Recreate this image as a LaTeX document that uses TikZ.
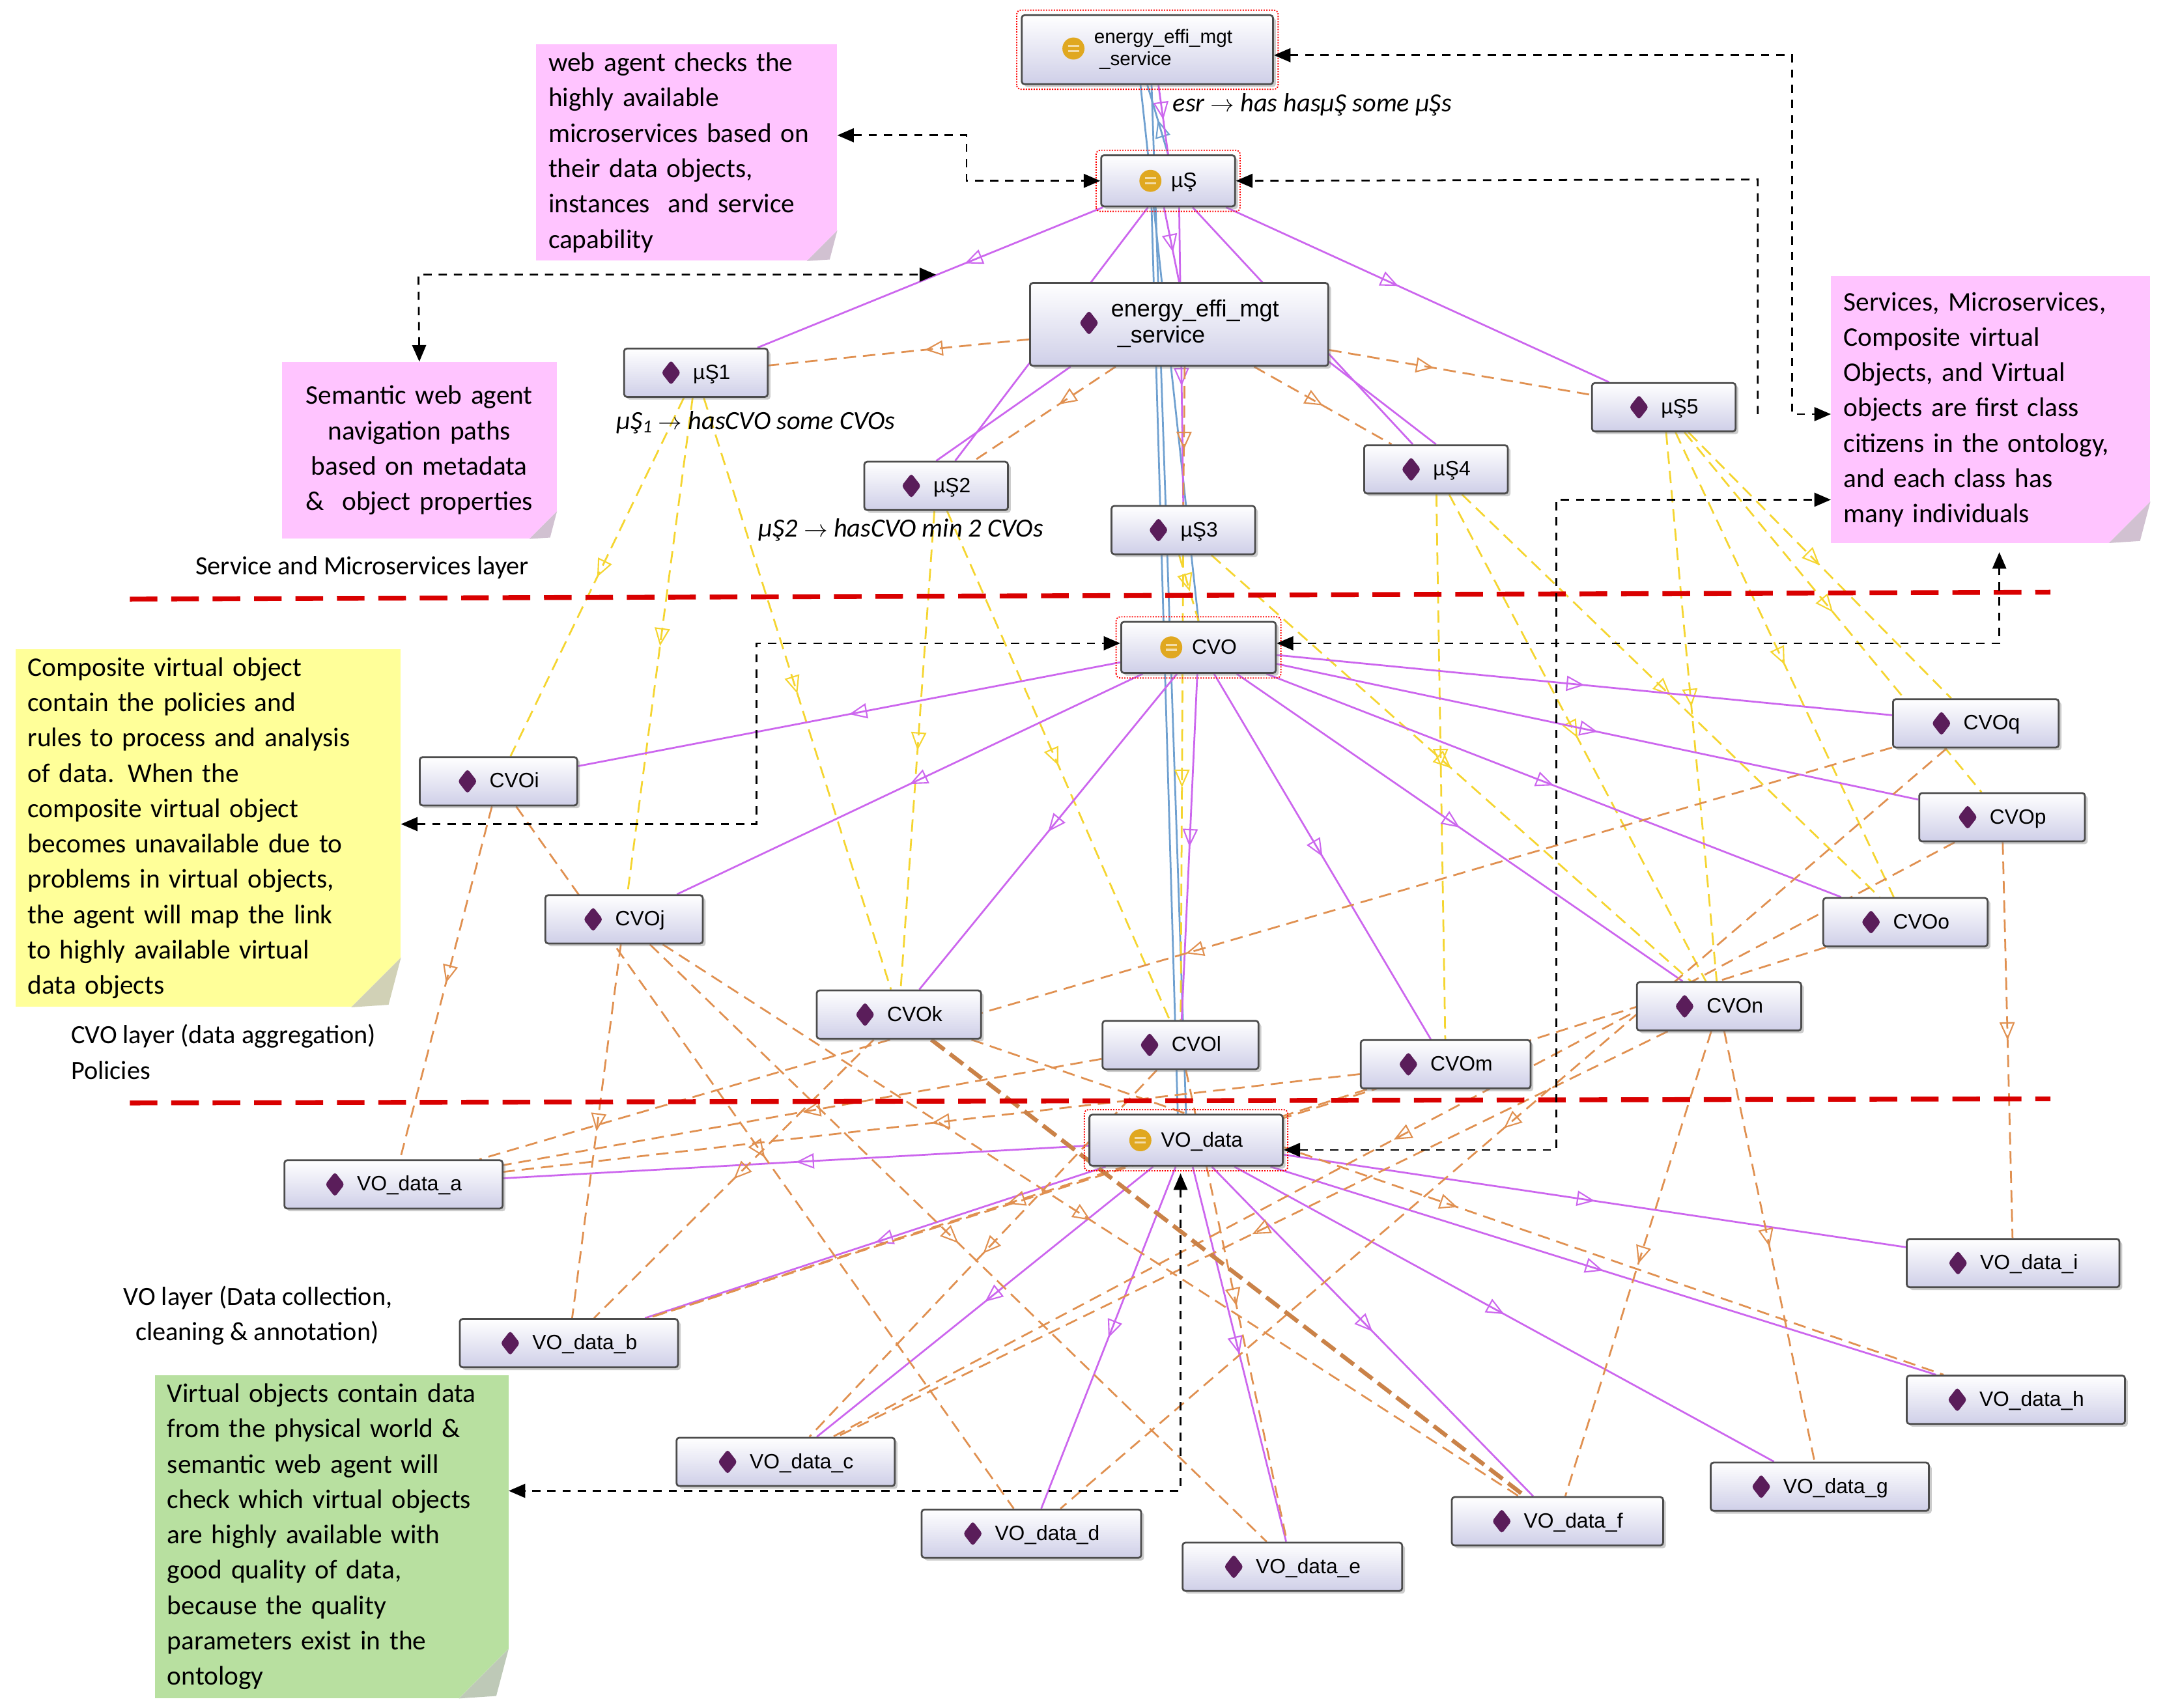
\documentclass[tikz,border=0pt]{standalone}
\usepackage{fontspec}
\setmainfont{Carlito}
\newfontfamily\nodefont{Liberation Sans}
\usetikzlibrary{arrows.meta,decorations.markings,shadows,calc}
\pgfdeclarelayer{back}\pgfdeclarelayer{edges}\pgfsetlayers{back,edges,main}
\definecolor{pur}{HTML}{CC66EE}
\definecolor{org}{HTML}{E09050}
\definecolor{yel}{HTML}{F5D530}
\definecolor{blu}{HTML}{6FA0D0}
\definecolor{dia}{HTML}{5A1D5A}
\definecolor{gold}{HTML}{E0A820}
\definecolor{pnk}{HTML}{FFC4FF}
\definecolor{ylw}{HTML}{FFFF99}
\definecolor{grn}{HTML}{B8E0A0}
\definecolor{nodebot}{HTML}{CFCFE8}
\newcommand{\dm}{\tikz[baseline=-0.6ex,x=1pt,y=1pt]\fill[dia](0,9)--(7,0)--(0,-9)--(-7,0)--cycle;\hspace{9pt}}
\newcommand{\gc}{\tikz[baseline=-0.6ex,x=1pt,y=1pt]{\fill[gold](0,0)circle(8);\draw[white!60!gold,line width=1.5pt](-4,1.8)--(4,1.8)(-4,-1.8)--(4,-1.8);}\hspace{7pt}}
\begin{document}
\begin{tikzpicture}[x=1pt,y=-1pt,
 cls/.style={draw=black!70,line width=1.3pt,rounded corners=2pt,top color=white,bottom color=nodebot,
   drop shadow={shadow xshift=2pt,shadow yshift=-2pt,opacity=0.4},font=\nodefont\fontsize{15}{17}\selectfont,
   minimum height=35,inner sep=3pt},
 mid/.style={postaction={decorate,decoration={markings,mark=at position #1 with {\arrow{Triangle[open,length=13pt,width=11pt,line width=1pt]}}}}},
 pe/.style={pur,line width=1.3pt,mid=#1},
 oe/.style={org,line width=1.3pt,dash pattern=on 9pt off 5pt,mid=#1},
 ye/.style={yel,line width=1.3pt,dash pattern=on 9pt off 5pt,mid=#1},
 be/.style={blu,line width=1.3pt},
 bd/.style={black,line width=1.3pt,dash pattern=on 6pt off 5pt,arrows={Triangle[length=12pt,width=10pt]-Triangle[length=12pt,width=10pt]}},
 note/.style={font=\fontsize{19.5}{25.6}\selectfont,align=left,anchor=north west,inner xsep=9pt,inner ysep=6pt},
 lay/.style={font=\fontsize{19}{25.6}\selectfont,align=left,anchor=west},
 it/.style={font=\itshape\fontsize{19}{22}\selectfont,anchor=west}]
\useasboundingbox (0,0) rectangle (1568,1237);
\begin{pgfonlayer}{back}\fill[white](0,0) rectangle (1568,1237);\end{pgfonlayer}

% callouts
\node[note,fill=pnk,text width=200,minimum height=152] (n1) at (388,32) {web agent checks the\\highly available\\microservices based on\\their data objects,\\instances\ \ and service\\capability};
\node[note,fill=pnk,text width=181,minimum height=128,align=center] (n2) at (204,262) {Semantic web agent\\navigation paths\\based on metadata\\\&\ \ object properties};
\node[note,fill=pnk,text width=213,minimum height=193] (n3) at (1326,200) {Services, Microservices,\\Composite virtual\\Objects, and Virtual\\objects are first class\\citizens in the ontology,\\and each class has\\many individuals};
\node[note,fill=ylw,text width=261,minimum height=252] (n4) at (11,470) {Composite virtual object\\contain the policies and\\rules to process and analysis\\of data. When the\\composite virtual object\\becomes unavailable due to\\problems in virtual objects,\\the agent will map the link\\to highly available virtual\\data objects};
\node[note,fill=grn,text width=238,minimum height=234] (n5) at (112,996) {Virtual objects contain data\\from the physical world \&\\semantic web agent will\\check which virtual objects\\are highly available with\\good quality of data,\\because the quality\\parameters exist in the\\ontology};
\foreach \n/\f/\c in {n1/22/pnk,n2/20/pnk,n3/30/pnk,n4/36/ylw,n5/36/grn}{
 \fill[white] (\n.south east) -- ++(-\f,0) -- ++(\f,-\f) -- cycle;
 \fill[\c!60!black!45] ($(\n.south east)+(-\f,0)$) -- ++(\f,-\f) -- ++(-\f*0.25,\f*0.95) -- cycle;}

% layer lines
\draw[red!85!black,line width=3.5pt,dash pattern=on 20pt off 10pt] (94,434) -- (1485,429);
\draw[red!85!black,line width=3.5pt,dash pattern=on 20pt off 10pt] (94,799) -- (1485,796);
\node[lay] at (138,411) {Service and Microservices layer};
\node[lay] at (48,762) {CVO layer (data aggregation)\\Policies};
\node[lay] at (86,953) {VO layer (Data collection,\\\ \ cleaning \& annotation)};
\node[it] at (846,76) {esr $\rightarrow$ has hasµŞ some µŞs};
\node[it] at (443,306) {µŞ\textsubscript{1} $\rightarrow$ hasCVO some CVOs};
\node[it] at (546,384) {µŞ2 $\rightarrow$ hasCVO min 2 CVOs};

% nodes
\node[cls,minimum width=182,minimum height=50,align=left,font=\nodefont\fontsize{14}{16}\selectfont] (top) at (831,36) {\gc\begin{tabular}{@{}l@{}}energy\_effi\_mgt\\\ \_service\end{tabular}};
\node[cls,minimum width=97,minimum height=37] (mus) at (846,131) {\gc µŞ};
\node[cls,minimum width=216,minimum height=60,font=\nodefont\fontsize{17}{19}\selectfont] (en) at (854,235) {\dm\begin{tabular}{@{}l@{}}energy\_effi\_mgt\\\ \_service\end{tabular}};
\foreach \n/\x/\y/\w/\t in {s1/504/270/104/µŞ1,s5/1205/295/104/µŞ5,s4/1040/340/104/µŞ4,s2/678/352/104/µŞ2,s3/857/384/104/µŞ3,
 cq/1431/524/120/CVOq,ci/361/566/114/CVOi,cp/1450/592/120/CVOp,cj/452/666/114/CVOj,co/1380/668/119/CVOo,
 ck/651/735/119/CVOk,cn/1245/729/119/CVOn,cl/855/757/113/CVOl,cm/1047/771/123/CVOm,
 va/285/858/158/VO\_data\_a,vi/1458/915/154/VO\_data\_i,vb/412/973/158/VO\_data\_b,vh/1460/1014/158/VO\_data\_h,
 vc/569/1059/158/VO\_data\_c,vg/1318/1077/158/VO\_data\_g,vf/1128/1102/153/VO\_data\_f,vd/747/1111/159/VO\_data\_d,ve/936/1135/159/VO\_data\_e}
 {\node[cls,minimum width=\w] (\n) at (\x,\y) {\dm\t};}
\node[cls,minimum width=112,minimum height=37] (cvo) at (868,469) {\gc CVO};
\node[cls,minimum width=140,minimum height=37] (vo) at (859,826) {\gc VO\_data};
\foreach \n in {top,mus,cvo,vo} \draw[red,densely dotted,line width=0.9pt,rounded corners=3pt] ($(\n.south west)+(-3,3)$) rectangle ($(\n.north east)+(3,-3)$);

\begin{pgfonlayer}{edges}
% blue
\draw[be] (top.south) ++(-5,0) -- (cvo.north);
\draw[be] (top.south) ++(3,0) -- (vo.north);
\draw[be] (mus.south) ++(-12,0) -- ($(vo.north)+(-6,0)$);
\draw[be,mid=0.5] (mus.north) -- (top.south);
% purple service level
\draw[pe=0.5] (top.south) ++(8,0) -- (mus.north);
\foreach \t/\p in {s1/0.4,s5/0.45,s2/0.5,s4/0.5}\draw[pe=\p] (mus) -- (\t);
\draw[pe=0.6] (mus.south) ++(-3,0) -- (en.north);
\draw[pe=0.6] (mus.south) ++(8,0) -- (s3.north);
\draw[pur,line width=1.3pt] (en.south east) ++(-2,-5) -- (s4.north);
\draw[pur,line width=1.3pt] (en.south west) ++(30,0) -- (s2.north);
% orange service level
\foreach \t/\p in {s1/0.4,s2/0.4,s4/0.5,s5/0.4}\draw[oe=\p] (en) -- (\t);
\draw[oe=0.6] (en.south) ++(4,0) -- (s3.north);
% yellow
\foreach \a/\b in {s1/ci,s1/cj,s1/ck,s2/ck,s2/cl,s3/cl,s3/cn,s4/cm,s4/cn,s4/co,s5/cq,s5/cp,s5/co,s5/cn}\draw[ye=0.5] (\a) -- (\b);
\draw[ye=0.55] (s3.south) ++(-3,0) -- (cvo.north);
% purple cvo
\foreach \t in {cq,ci,cp,cj,co,ck,cn,cl,cm}\draw[pe=0.5] (cvo) -- (\t);
% purple vo
\foreach \t in {va,vi,vb,vh,vc,vg,vf,vd,ve}\draw[pe=0.5] (vo) -- (\t);
% orange cvo->vo
\foreach \a/\b in {ci/va,ci/vd,cj/vb,cj/ve,cj/vf,cq/va,cp/vc,cp/vi,co/vb,cn/vf,cn/vg,cn/vc,cm/va,cl/va,cl/vc,ck/vh,cq/vd,cm/vb,ck/vb,cl/ve}\draw[oe=0.5] (\a) -- (\b);
\draw[org!90!black,line width=3pt,dash pattern=on 12pt off 5pt] (ck) -- (vf);
\end{pgfonlayer}

% black dashed agent links
\draw[bd] (n1.east|-0,98) -- (700,98) -- (700,131) -- (mus.west);
\draw[bd] (top.east|-0,40) -- (1298,40) -- (1298,300) -- (n3.west|-0,300);
\draw[bd,arrows={-Triangle[length=12pt,width=10pt]}] (1273,300) -- (1273,130) -- (mus.east);
\draw[bd] (n2.north) -- (303,199) -- (678,199);
\draw[bd] (n4.east|-0,597) -- (548,597) -- (548,466) -- (cvo.west|-0,466);
\draw[bd] (cvo.east|-0,466) -- (1448,466) -- (1448,400);
\draw[bd] (vo.east|-0,833) -- (1127,833) -- (1127,362) -- (n3.west|-0,362);
\draw[bd] (855,850) -- (855,1080) -- (n5.east|-0,1080);
\end{tikzpicture}
\end{document}
